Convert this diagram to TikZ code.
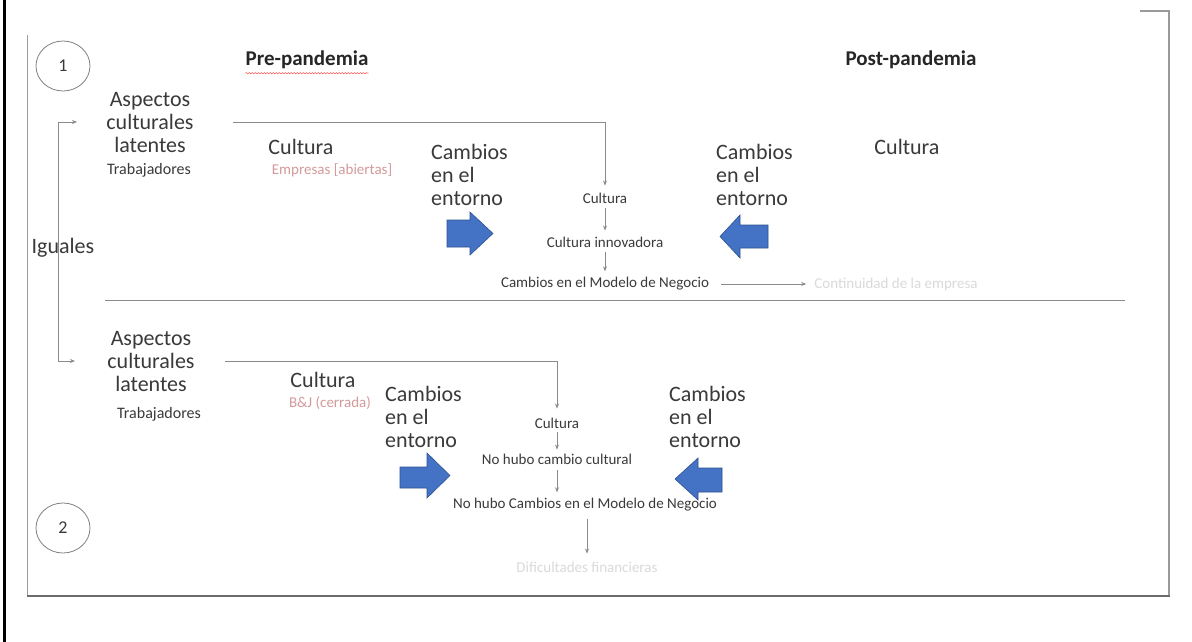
\documentclass[tikz,border=0pt]{standalone}
\usepackage{fontspec}
\setmainfont{Carlito}
\usetikzlibrary{arrows.meta,decorations.pathmorphing,shapes.geometric,calc}
\definecolor{txt}{HTML}{3A3A3A}
\definecolor{linegray}{HTML}{8A8A8A}
\definecolor{framegray}{HTML}{9A9A9A}
\definecolor{faint}{HTML}{DADADA}
\definecolor{redtxt}{HTML}{D49A9A}
\definecolor{officeblue}{HTML}{4472C4}
\definecolor{blueedge}{HTML}{2F528F}
\tikzset{
  big/.style={font=\fontsize{22}{23}\selectfont, text=txt, inner sep=0pt},
  bighead/.style={font=\bfseries\fontsize{21}{23}\selectfont, text=black!85, inner sep=0pt},
  small/.style={font=\fontsize{15}{18}\selectfont, text=txt, inner sep=0pt},
  worker/.style={font=\fontsize{16}{18}\selectfont, text=txt, inner sep=0pt},
  redsmall/.style={font=\fontsize{15}{18}\selectfont, text=redtxt, inner sep=0pt},
  faintsmall/.style={font=\fontsize{15}{18}\selectfont, text=faint, inner sep=0pt},
  conn/.style={draw=linegray, line width=0.8pt, -{Stealth[length=5pt,width=4pt]}},
  plainline/.style={draw=linegray, line width=0.8pt},
  numcirc/.style={ellipse, draw=gray, line width=0.8pt, minimum width=54pt, minimum height=50pt, inner sep=0pt, font=\fontsize{18}{18}\selectfont, text=txt},
  barrow/.style={fill=officeblue, draw=blueedge, line width=0.6pt}
}
\begin{document}
\begin{tikzpicture}[x=1pt,y=-1pt]
\useasboundingbox (0,0) rectangle (1192,642);
\fill[white] (0,0) rectangle (1192,642);

% frames
\draw[black, line width=3pt] (4,0) -- (4,642);
\draw[framegray, line width=1.2pt] (1140,11) -- (1169,11) -- (1169,596);
\draw[framegray, line width=1pt] (27,35) -- (27,596);
\draw[framegray!70!black, line width=2.5pt] (27,596) -- (1170,596);

% headers
\node[numcirc] (n1) at (63,66) {1};
\node[bighead] (pre) at (307,60) {Pre-pandemia};
\draw[red!70, line width=0.5pt, decorate, decoration={snake, amplitude=0.7pt, segment length=3pt}] ($(pre.south west)+(0,4)$) -- ($(pre.south east)+(0,4)$);
\node[bighead] (post) at (911,60) {Post-pandemia};

% ---------- section 1 ----------
\node[big, align=center] (asp1) at (150,123) {Aspectos\\culturales\\latentes};
\node[worker] (trab1) at (149,170) {Trabajadores};
\node[big] (cul1) at (301,147) {Cultura};
\node[redsmall] (emp1) at (332,170) {Empresas [abiertas]};
\node[big, align=left, anchor=west] (camL1) at (431,175) {Cambios\\en el\\entorno};
\node[big, align=left, anchor=west] (camR1) at (716,175) {Cambios\\en el\\entorno};
\node[big] (culR1) at (907,147) {Cultura};

\node[small] (cc1) at (605,198) {Cultura};
\node[small] (ci1) at (605,242) {Cultura innovadora};
\node[small] (cm1) at (605,284) {Cambios en el Modelo de Negocio};
\node[faintsmall] (fin1) at (896,284) {Continuidad de la empresa};

\coordinate (l1s) at (233,122);
\draw[conn] (l1s) -| ([yshift=7pt]cc1.north);
\draw[conn] ([yshift=-5pt]cc1.south) -- ([yshift=6pt]cc1.south |- ci1.north);
\draw[conn] ([yshift=-5pt]ci1.south) -- ([yshift=6pt]ci1.south |- cm1.north);
\draw[conn] ([xshift=12pt]cm1.east) -- ([xshift=-8pt]fin1.west);

% left bracket "Iguales"
\coordinate (ba) at (77,122);
\coordinate (bb) at (75,361);
\draw[plainline, {Stealth[length=5pt,width=4pt]}-{Stealth[length=5pt,width=4pt]}] (ba) -- (58,122) -- (58,361) -- (bb);
\node[big] (igu) at (63,248) {Iguales};

% separator
\coordinate (s1) at (105,300);
\coordinate (s2) at (1125,300);
\draw[plainline] (s1) -- (s2);

% ---------- section 2 ----------
\node[big, align=center] (asp2) at (151,362) {Aspectos\\culturales\\latentes};
\node[worker] (trab2) at (159,414) {Trabajadores};
\node[big] (cul2) at (323,380) {Cultura};
\node[redsmall] (bj) at (330,403) {B\&J (cerrada)};
\node[big, align=left, anchor=west] (camL2) at (385,417) {Cambios\\en el\\entorno};
\node[big, align=left, anchor=west] (camR2) at (669,417) {Cambios\\en el\\entorno};

\node[small] (cc2) at (557,423) {Cultura};
\node[small] (nc2) at (557,459) {No hubo cambio cultural};
\node[small] (nm2) at (585,505) {No hubo Cambios en el Modelo de Negocio};
\node[faintsmall] (fin2) at (587,567) {Dificultades financieras};

\coordinate (l2s) at (225,361);
\draw[conn] (l2s) -| ([yshift=9pt]cc2.north);
\draw[conn] ([yshift=-4pt]cc2.south) -- ([yshift=4pt]cc2.south |- nc2.north);
\draw[conn] ([yshift=-6pt]nc2.south) -- ([yshift=6pt]nc2.south |- nm2.north);
\draw[conn] ([xshift=2pt,yshift=-7pt]nm2.south) -- ([yshift=8pt]fin2.north);

\node[numcirc] (n2) at (63,528) {2};

% blue block arrows
\path[barrow] (447,220) -- (470,220) -- (470,212) -- (493,233.5) -- (470,255) -- (470,247) -- (447,247) -- cycle;
\path[barrow] (768,225) -- (740,225) -- (740,215) -- (720,236.5) -- (740,258) -- (740,248) -- (768,248) -- cycle;
\path[barrow] (400,467) -- (427,467) -- (427,453) -- (450,475.5) -- (427,498) -- (427,488) -- (400,488) -- cycle;
\path[barrow] (722,468) -- (698,468) -- (698,458) -- (675,479) -- (698,500) -- (698,492) -- (722,492) -- cycle;
\end{tikzpicture}
\end{document}
